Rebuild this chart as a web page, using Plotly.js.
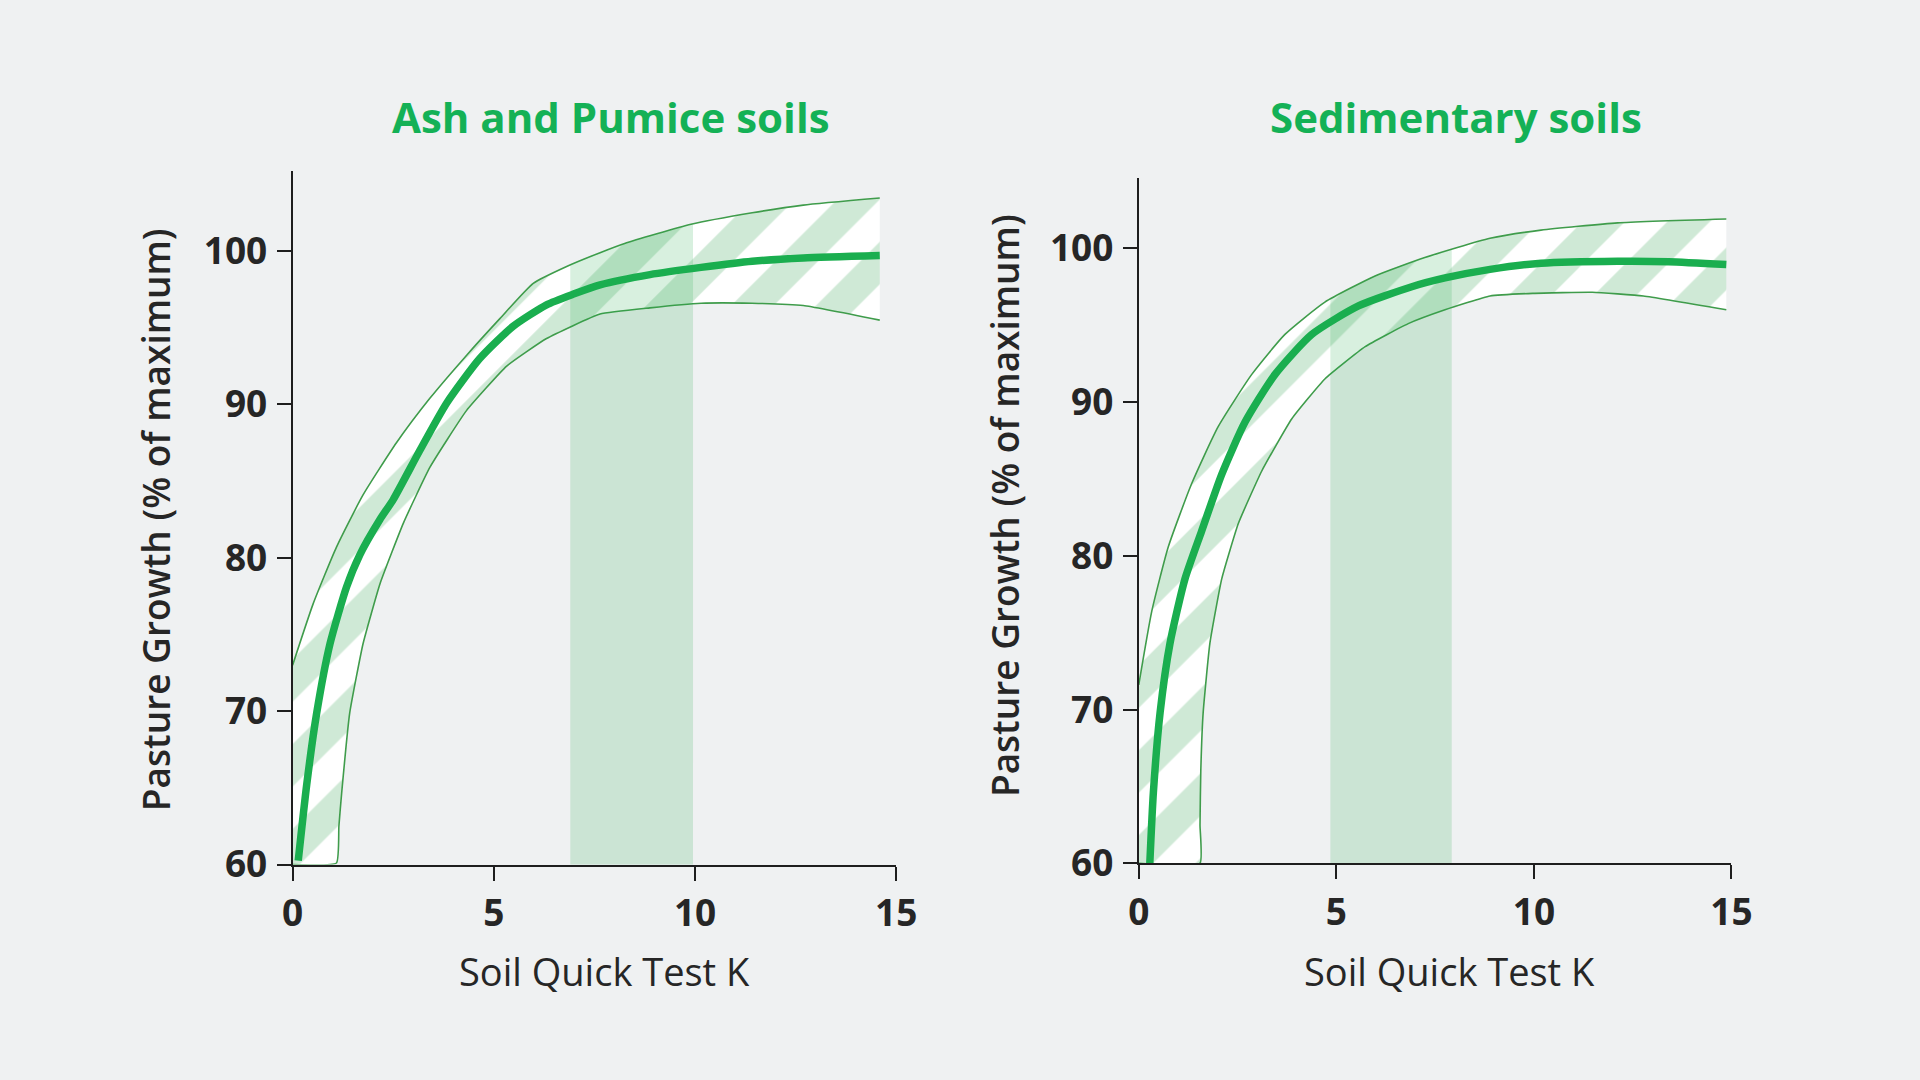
<!DOCTYPE html>
<html>
<head>
<meta charset="utf-8">
<script src="https://cdn.plot.ly/plotly-3.0.1.min.js"></script>
<style>
  html, body { margin: 0; padding: 0; background: #eff1f2; }
  #chart { width: 1920px; height: 1080px; }
</style>
</head>
<body>
<div id="chart"></div>
<script>
// Ash and Pumice soils
var ashMainX  = [0.14, 0.35, 0.60, 0.93, 1.34, 1.67, 2.17, 2.5, 3.16, 3.83, 4.65, 5.48, 6.31, 6.98, 7.64, 8.88, 10.15, 11.42, 12.69, 14.59]
var ashMainY  = [60.25, 65.2, 69.9, 74.4, 78.1, 80.2, 82.5, 83.8, 87.0, 90.1, 93.0, 95.1, 96.5, 97.2, 97.8, 98.47, 98.94, 99.34, 99.56, 99.72]
var ashUpperX = [0, 0.51, 1.09, 1.75, 2.58, 3.41, 4.32, 5.15, 5.98, 6.81, 7.64, 8.25, 9.9, 11.42, 12.69, 14.59]
var ashUpperY = [73.0, 77.0, 80.7, 84.1, 87.5, 90.4, 93.2, 95.6, 97.9, 99.0, 99.9, 100.5, 101.75, 102.5, 103.0, 103.46]
var ashLowerX = [0, 1.09, 1.15, 1.22, 1.42, 1.75, 2.17, 2.75, 3.41, 4.32, 5.32, 6.31, 7.64, 8.88, 10.15, 11.42, 12.69, 14.59]
var ashLowerY = [60, 60.1, 62.5, 64.7, 69.9, 74.4, 78.3, 82.25, 85.9, 89.6, 92.5, 94.3, 95.9, 96.3, 96.6, 96.6, 96.45, 95.5]
var ashBandX  = [6.9, 7.64, 8.25, 9.0, 9.95]
var ashBandY  = [99.15, 99.9, 100.5, 101.1, 101.75]

// Sedimentary soils
var sedMainX  = [0.28, 0.37, 0.54, 0.79, 1.17, 1.59, 2.10, 2.69, 3.45, 4.38, 5.56, 6.91, 7.75, 8.89, 10.18, 12.12, 13.41, 14.87]
var sedMainY  = [60.0, 64.6, 69.8, 74.3, 78.5, 81.6, 85.3, 88.7, 91.8, 94.4, 96.25, 97.5, 98.07, 98.63, 99.03, 99.16, 99.13, 98.94]
var sedUpperX = [0, 0.33, 0.75, 1.34, 2.01, 2.86, 3.70, 4.71, 5.98, 7.24, 8.89, 10.18, 12.12, 14.87]
var sedUpperY = [71.6, 76.4, 80.6, 84.7, 88.4, 91.8, 94.4, 96.5, 98.2, 99.4, 100.65, 101.18, 101.65, 101.9]
var sedLowerX = [0, 1.55, 1.55, 1.57, 1.63, 1.80, 2.10, 2.52, 3.11, 3.87, 4.71, 5.73, 6.82, 7.75, 8.89, 9.97, 11.48, 12.77, 14.87]
var sedLowerY = [60, 60, 62.5, 66.0, 69.8, 74.3, 78.5, 82.1, 85.5, 88.9, 91.5, 93.6, 95.1, 96.0, 96.9, 97.07, 97.14, 96.9, 96.0]
var sedBandX  = [4.85, 5.98, 7.24, 7.92]
var sedBandY  = [96.7, 98.2, 99.4, 99.9]

var xTicks = [0, 5, 10, 15]
var yTicks = [60, 70, 80, 90, 100]

var green = '#1aae4f'
var edge = '#3f9c4b'
var dark = '#262626'

function panel(xa, ya, mainX, mainY, upX, upY, loX, loY, bandX, bandY)
{
	var lower = {
		type: 'scatter', mode: 'lines', xaxis: xa, yaxis: ya,
		x: loX, y: loY,
		line: {color: edge, width: 1.6, shape: 'spline', smoothing: 0.4}
	}
	var upper = {
		type: 'scatter', mode: 'lines', xaxis: xa, yaxis: ya,
		x: upX, y: upY,
		fill: 'tonexty',
		fillcolor: '#ffffff',
		fillpattern: {shape: '/', fgcolor: '#cfe9d6', bgcolor: '#ffffff', size: 60, solidity: 0.5},
		line: {color: edge, width: 1.6, shape: 'spline', smoothing: 0.5}
	}
	var band = {
		type: 'scatter', mode: 'lines', xaxis: xa, yaxis: ya,
		x: bandX, y: bandY,
		fill: 'tozeroy',
		fillcolor: 'rgba(40,170,80,0.18)',
		line: {width: 0, shape: 'spline'}
	}
	var main = {
		type: 'scatter', mode: 'lines', xaxis: xa, yaxis: ya,
		x: mainX, y: mainY,
		line: {color: green, width: 7.5, shape: 'spline', smoothing: 0.6}
	}
	return [lower, upper, band, main]
}

var dane = panel('x', 'y', ashMainX, ashMainY, ashUpperX, ashUpperY, ashLowerX, ashLowerY, ashBandX, ashBandY)
	.concat(panel('x2', 'y2', sedMainX, sedMainY, sedUpperX, sedUpperY, sedLowerX, sedLowerY, sedBandX, sedBandY))

var tickFont = {family: 'Open Sans, sans-serif', size: 37, color: dark, weight: 700}

function xAxis(dom, anchor)
{
	return {
		domain: dom, anchor: anchor, range: [0, 15], tickvals: xTicks,
		showgrid: false, zeroline: false, showline: true, linecolor: '#1e1e1e', linewidth: 2,
		ticks: 'outside', ticklen: 14, tickwidth: 2, tickcolor: '#1e1e1e',
		tickfont: tickFont, ticklabelstandoff: 1, fixedrange: true
	}
}
function yAxis(dom, anchor, top)
{
	return {
		domain: dom, anchor: anchor, range: [60, top], tickvals: yTicks,
		showgrid: false, zeroline: false, showline: true, linecolor: '#1e1e1e', linewidth: 2,
		ticks: 'outside', ticklen: 14, tickwidth: 2, tickcolor: '#1e1e1e',
		tickfont: tickFont, ticklabelstandoff: 2, fixedrange: true
	}
}

var titleFont = {family: 'Open Sans, sans-serif', size: 42, color: '#14b156', weight: 700}
var yTitleFont = {family: 'Open Sans, sans-serif', size: 37, color: dark, weight: 600}
var xTitleFont = {family: 'Open Sans, sans-serif', size: 38, color: dark, weight: 400}

function note(text, x, y, font, angle)
{
	return {text: text, xref: 'paper', yref: 'paper', x: x, y: y, xanchor: 'center', yanchor: 'middle',
		textangle: angle || 0, showarrow: false, font: font}
}

var layout = {
	width: 1920, height: 1080,
	margin: {l: 0, r: 0, t: 0, b: 0},
	paper_bgcolor: '#eff1f2', plot_bgcolor: 'rgba(0,0,0,0)',
	showlegend: false, hovermode: false,
	xaxis: xAxis([0.1524, 0.4668], 'y'),
	yaxis: yAxis([0.1995, 0.8413], 'x', 105.2),
	xaxis2: xAxis([0.5931, 0.9018], 'y2'),
	yaxis2: yAxis([0.2006, 0.8356], 'x2', 104.6),
	annotations: [
		note('Ash and Pumice soils', 0.3182, 0.8925, titleFont),
		note('Sedimentary soils', 0.7583, 0.8925, titleFont),
		note('Pasture Growth (% of maximum)', 0.0808, 0.5185, yTitleFont, -90),
		note('Pasture Growth (% of maximum)', 0.5235, 0.5315, yTitleFont, -90),
		note('Soil Quick Test K', 0.3146, 0.1009, xTitleFont),
		note('Soil Quick Test K', 0.7552, 0.1009, xTitleFont)
	]
}

Plotly.newPlot('chart', dane, layout, {staticPlot: true, displayModeBar: false})
</script>
</body>
</html>
